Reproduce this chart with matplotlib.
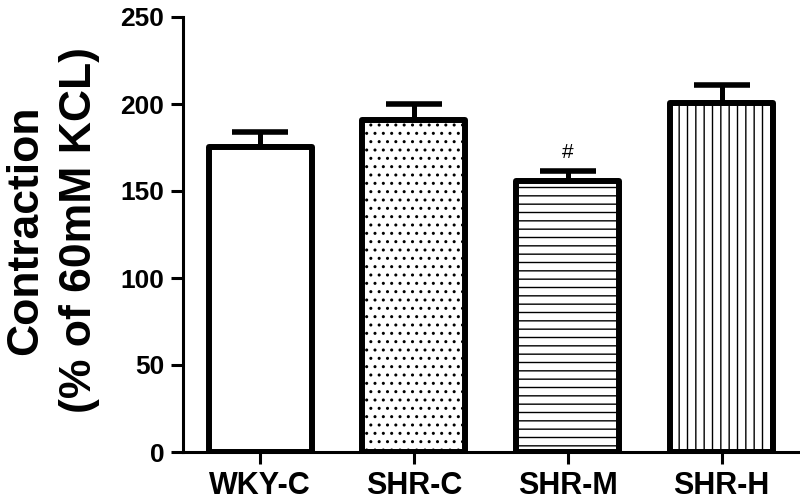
import matplotlib
matplotlib.use("Agg")
import matplotlib.pyplot as plt
import numpy as np

groups = ["WKY-C", "SHR-C", "SHR-M", "SHR-H"]
means = [175.5, 191, 156, 200.5]
sem = [8.6, 9, 5.5, 10.5]
hatches = ["", "..", "--", "||"]
marks = ["", "", "#", ""]

plt.rcParams["font.family"] = ["Liberation Sans", "DejaVu Sans"]
plt.rcParams["hatch.linewidth"] = 1.0
plt.rcParams["hatch.color"] = "black"

fig = plt.figure(figsize=(8, 5), dpi=100)
ax = fig.add_axes([0.229, 0.096, 0.769, 0.87])

x = np.arange(len(groups))
bars = ax.bar(x, means, width=0.67, color="white", edgecolor="black",
              linewidth=4.3, zorder=2)
for b, h in zip(bars, hatches):
    b.set_hatch(h)
    b.set_joinstyle("round")

ax.errorbar(x, means, yerr=[np.zeros(len(sem)), sem], fmt="none",
            ecolor="black", elinewidth=3.6, capsize=20, capthick=4, zorder=1)

for xi, m, s, t in zip(x, means, sem, marks):
    if t:
        ax.text(xi, m + s + 5, t, ha="center", va="bottom", fontsize=15)

ax.set_xlim(-0.5, 3.5)
ax.set_ylim(0, 250)
ax.set_yticks(np.arange(0, 251, 50))
ax.set_xticks(x)
ax.set_xticklabels(groups, fontsize=22, fontweight="bold")
for lbl in ax.get_yticklabels():
    lbl.set_fontsize(19)
    lbl.set_fontweight("bold")

ax.set_ylabel("Contraction\n(% of 60mM KCL)", fontsize=32, fontweight="bold",
              linespacing=1.4)
ax.yaxis.set_label_coords(-0.135, 0.51)

for side in ["top", "right"]:
    ax.spines[side].set_visible(False)
for side in ["left", "bottom"]:
    ax.spines[side].set_linewidth(2.2)
ax.tick_params(axis="both", direction="out", length=8.6, width=2.2)
ax.tick_params(axis="y", pad=5)
ax.tick_params(axis="x", pad=5)

fig.savefig("out.png", dpi=100)
